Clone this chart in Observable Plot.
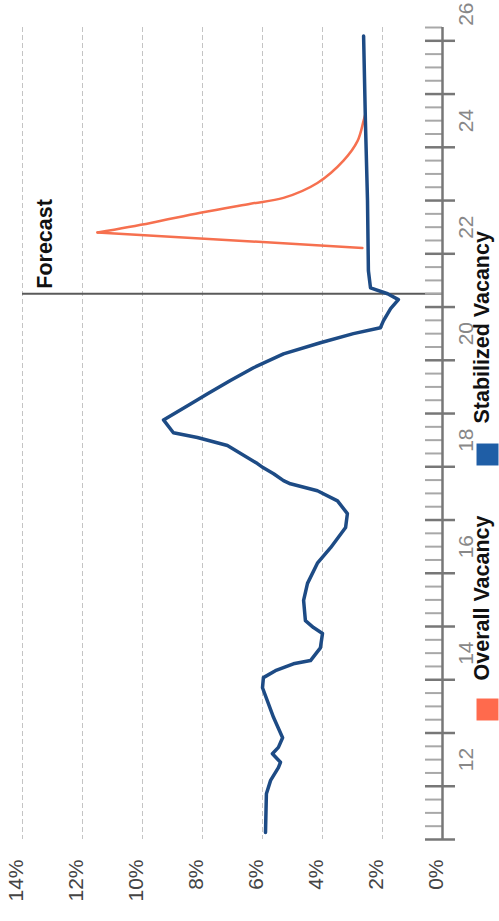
<!DOCTYPE html>
<html>
<head>
<meta charset="utf-8">
<script src="https://cdn.jsdelivr.net/npm/d3@7"></script>
<script src="https://cdn.jsdelivr.net/npm/@observablehq/plot@0.6"></script>
<style>
  html, body { margin: 0; padding: 0; background: #fff; overflow: hidden; }
  #chart svg { display: block; }
</style>
</head>
<body>
<div id="chart"></div>
<script>
// ---- data (year position, vacancy %) ----
const stabilizedYears = [10.63, 11.36, 11.61, 11.85, 11.95, 12.11, 12.23, 12.41, 12.79, 13.35, 13.54, 13.67, 13.8, 13.86, 14.1, 14.37, 14.48, 14.61, 14.99, 15.31, 15.69, 15.98, 16.36, 16.62, 16.86, 17.05, 17.18, 17.24, 17.37, 17.48, 17.56, 17.9, 18.05, 18.14, 18.38, 18.68, 18.87, 19.12, 19.36, 19.62, 19.83, 20.0, 20.11, 20.24, 20.47, 20.64, 20.75, 20.86, 21.18, 22.5, 24.0, 25.59];
const stabilizedValues = [5.9, 5.87, 5.73, 5.47, 5.4, 5.67, 5.47, 5.33, 5.63, 6.0, 5.97, 5.57, 4.97, 4.4, 4.07, 4.0, 4.3, 4.57, 4.63, 4.5, 4.17, 3.73, 3.23, 3.17, 3.5, 4.17, 5.07, 5.3, 5.63, 5.97, 6.17, 7.17, 8.17, 8.97, 9.3, 8.4, 7.83, 7.07, 6.3, 5.3, 4.07, 2.97, 2.07, 1.97, 1.73, 1.47, 1.83, 2.4, 2.47, 2.5, 2.57, 2.63];
const overallYears = [21.61, 21.9, 22.08, 22.27, 22.44, 22.55, 22.83, 23.25, 23.62, 24.0, 24.13];
const overallValues = [2.67, 11.5, 9.73, 8.07, 6.4, 5.3, 4.17, 3.3, 2.83, 2.63, 2.57];
const yearTickLabels = [12, 14, 16, 18, 20, 22, 24, 26];
const percentTicks = [0, 2, 4, 6, 8, 10, 12, 14];
const gridValues = [2, 4, 6, 8, 10, 12, 14];
const forecastYear = 20.75;
const forecastLabel = "Forecast";
const seriesNames = ["Overall Vacancy", "Stabilized Vacancy"];
const seriesColors = ["#ff6a4d", "#1f5ea6"];
const lineColors = ["#f6704f", "#1d4b85"];

// ---- derived tables ----
const stabilized = stabilizedYears.map((t, i) => ({t, v: stabilizedValues[i]}));
const overall = overallYears.map((t, i) => ({t, v: overallValues[i]}));
const overallRise = overall.slice(0, 2);
const overallDecay = overall.slice(1);
const majorTicks = d3.range(10.5, 25.51, 1);
const minorTicks = d3.range(10.75, 25.76, 0.25).filter(d => Math.abs(d - Math.round(d - 0.5) - 0.5) > 0.01);

const font = "'Liberation Sans', Arial, sans-serif";

const chart = Plot.plot({
  width: 499,
  height: 921,
  marginLeft: 22,
  marginRight: 57,
  marginTop: 27,
  marginBottom: 82,
  style: {background: "#fff", fontFamily: font},
  x: {domain: [0, 14], reverse: true, axis: null},
  y: {domain: [10.5, 25.75], axis: null},
  marks: [
    // grid
    Plot.ruleX(gridValues, {stroke: "#c4c4c4", strokeWidth: 1, strokeDasharray: "5,3"}),
    // forecast divider
    Plot.ruleY([forecastYear], {stroke: "#5a5a5a", strokeWidth: 2}),
    Plot.text([forecastLabel], {y: forecastYear, frameAnchor: "left", dx: 23, dy: -5, rotate: -90, textAnchor: "start", text: d => d, fontSize: 21.5, fontWeight: "bold", fill: "#111"}),
    // year axis
    Plot.ruleY(minorTicks, {y: d => d, x1: 0, x2: 0, insetLeft: -17, insetRight: 0, stroke: "#a8a8a8", strokeWidth: 2}),
    Plot.ruleY(majorTicks, {y: d => d, x1: 0, x2: 0, insetLeft: -17, insetRight: -13, stroke: "#777", strokeWidth: 2.5}),
    Plot.ruleX([0], {stroke: "#777", strokeWidth: 2.5}),
    Plot.text(yearTickLabels, {x: 0, y: d => d, text: d => `${d}`, rotate: -90, dx: 24, fontSize: 21, fill: "#888"}),
    // percent labels
    Plot.text(percentTicks, {x: d => d, frameAnchor: "bottom", text: d => `${d}%`, rotate: -90, textAnchor: "end", dy: 20, fontSize: 21, fill: "#444"}),
    // series
    Plot.line(overallRise, {x: "v", y: "t", stroke: lineColors[0], strokeWidth: 2.5, strokeLinecap: "round"}),
    Plot.line(overallDecay, {x: "v", y: "t", stroke: lineColors[0], strokeWidth: 2.5, curve: "catmull-rom", strokeLinecap: "round"}),
    Plot.line(stabilized, {x: "v", y: "t", stroke: lineColors[1], strokeWidth: 3.5, strokeLinejoin: "round", strokeLinecap: "round"}),
    // legend
    Plot.dot([seriesNames[0]], {frameAnchor: "bottom-right", dx: 45, dy: -130, symbol: "square", r: 12.4, fill: seriesColors[0]}),
    Plot.text([seriesNames[0]], {frameAnchor: "bottom-right", dx: 46, dy: -159, rotate: -90, textAnchor: "start", text: d => d, fontSize: 21.5, fontWeight: "bold", fill: "#111"}),
    Plot.dot([seriesNames[1]], {frameAnchor: "bottom-right", dx: 45, dy: -385, symbol: "square", r: 12.4, fill: seriesColors[1]}),
    Plot.text([seriesNames[1]], {frameAnchor: "bottom-right", dx: 46, dy: -416, rotate: -90, textAnchor: "start", text: d => d, fontSize: 21.5, fontWeight: "bold", fill: "#111"})
  ]
});

document.getElementById("chart").appendChild(chart);
</script>
</body>
</html>
